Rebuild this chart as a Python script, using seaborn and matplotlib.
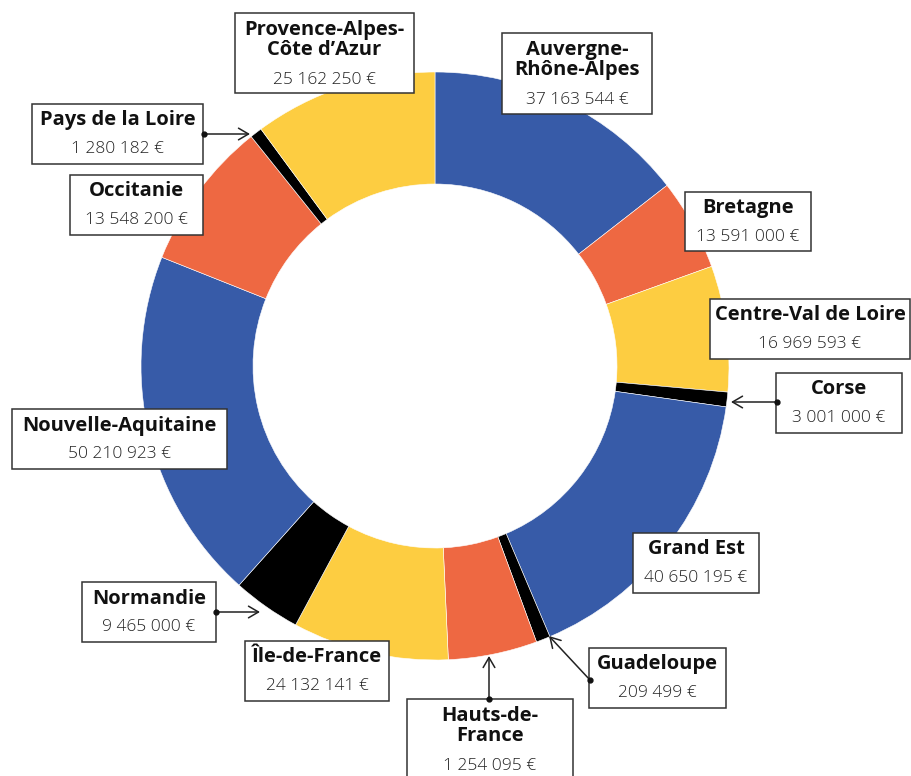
"""
Donut chart of amounts per region
"""

import matplotlib.pyplot as plt
from matplotlib.patches import Rectangle
import seaborn as sns

regions = [
    "Auvergne-\nRhône-Alpes", "Bretagne", "Centre-Val de Loire", "Corse",
    "Grand Est", "Guadeloupe", "Hauts-de-\nFrance", "Île-de-France",
    "Normandie", "Nouvelle-Aquitaine", "Occitanie", "Pays de la Loire",
    "Provence-Alpes-\nCôte d\u2019Azur",
]
amounts = [
    "37 163 544 €", "13 591 000 €", "16 969 593 €", "3 001 000 €",
    "40 650 195 €", "209 499 €", "1 254 095 €", "24 132 141 €",
    "9 465 000 €", "50 210 923 €", "13 548 200 €", "1 280 182 €",
    "25 162 250 €",
]
# slice sizes as drawn in the picture (degrees of the ring)
slice_deg = [52.1, 18.1, 24.9, 2.9, 59.0, 2.8, 17.6, 30.9, 13.5, 69.9, 29.6, 2.4, 36.3]

BLUE, ORANGE, YELLOW, BLACK = "#375ba8", "#ee6842", "#fdcd41", "#000000"
colors = [BLUE, ORANGE, YELLOW, BLACK, BLUE, BLACK, ORANGE, YELLOW,
          BLACK, BLUE, ORANGE, BLACK, YELLOW]

# label boxes: (left, top, right, bottom) in pixels, arrow (start, end) or None
boxes = [
    ((502, 33, 652, 114), None),
    ((685, 192, 811, 251), None),
    ((710, 299, 910, 359), None),
    ((776, 373, 902, 433), ((777, 402), (731, 402))),
    ((633, 533, 759, 593), None),
    ((589, 648, 726, 708), ((590, 680), (549, 636))),
    ((407, 699, 573, 790), ((489, 699), (489, 656))),
    ((245, 641, 389, 701), None),
    ((82, 582, 216, 642), ((216, 612), (260, 612))),
    ((12, 409, 227, 469), None),
    ((70, 175, 203, 235), None),
    ((32, 104, 203, 164), ((204, 134), (250, 134))),
    ((235, 13, 414, 93), None),
]

sns.set_theme(style="white")
plt.rcParams["font.family"] = ["Open Sans", "DejaVu Sans"]

W, H = 911, 776
fig = plt.figure(figsize=(W / 100, H / 100), dpi=100)
ax = fig.add_axes([0, 0, 1, 1])

cx, cy, R, r_in = 435, 366, 294, 182
ax.pie(
    slice_deg,
    colors=colors,
    center=(cx, cy),
    radius=R,
    startangle=270,
    counterclock=True,
    wedgeprops=dict(width=R - r_in, edgecolor="white", linewidth=0.4),
)

for name, amount, (box, arrow) in zip(regions, amounts, boxes):
    x0, y0, x1, y1 = box
    ax.add_patch(Rectangle((x0, y0), x1 - x0, y1 - y0, facecolor="white",
                           edgecolor="#333333", linewidth=1.1, zorder=3))
    xc = (x0 + x1) / 2
    n = name.count("\n")
    ax.text(xc, y0 + 16.5 + 10.5 * n, name, ha="center", va="center",
            fontsize=14.5, fontweight="bold", linespacing=0.98,
            color="#111111", zorder=4)
    ax.text(xc, y0 + 45 + 22 * n, amount, ha="center", va="center",
            fontsize=12.5, fontweight="light", color="#222222", zorder=4)
    if arrow is not None:
        (sx, sy), (ex, ey) = arrow
        ax.annotate("", xy=(ex, ey), xytext=(sx, sy), zorder=4,
                    arrowprops=dict(arrowstyle="->,head_length=0.6,head_width=0.35",
                                    color="#222222", lw=1.1,
                                    shrinkA=0, shrinkB=0))
        ax.plot(sx, sy, "o", color="#111111", markersize=3.5, zorder=5)

ax.set_xlim(0, W)
ax.set_ylim(H, 0)
ax.set_aspect("auto")
ax.axis("off")

fig.savefig("out.png", dpi=100)
